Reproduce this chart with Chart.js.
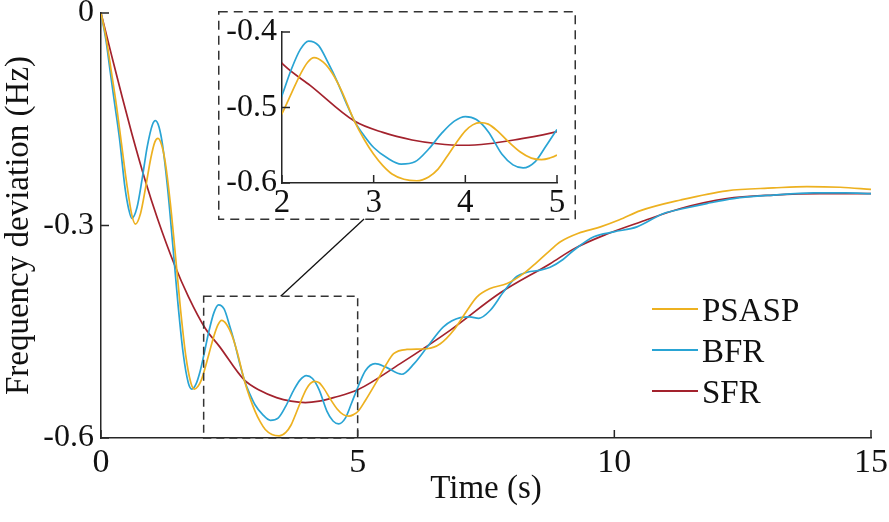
<!DOCTYPE html>
<html>
<head>
<meta charset="utf-8">
<script src="https://cdn.jsdelivr.net/npm/chart.js@4.4.1/dist/chart.umd.min.js"></script>
<style>
  html, body { margin: 0; padding: 0; background: #ffffff; }
  #wrap { position: relative; width: 889px; height: 522px; }
  #main { position: absolute; left: 0; top: 0; }
  #inset { position: absolute; }
</style>
</head>
<body>
<div id="wrap">
  <canvas id="main" width="889" height="522"></canvas>
  <canvas id="inset" width="358" height="209"></canvas>
</div>
<script>
// ---------------- data ----------------
const seriesNames = ['PSASP', 'BFR', 'SFR'];

const psaspT = [0, 0.1, 0.2, 0.3, 0.4, 0.5, 0.6, 0.67, 0.77, 0.87, 0.97, 1.05, 1.11, 1.18, 1.25, 1.35, 1.45, 1.55, 1.65, 1.75, 1.82, 1.89, 1.95, 2.0, 2.1, 2.2, 2.28, 2.35, 2.45, 2.55, 2.65, 2.79, 2.9, 3.0, 3.1, 3.2, 3.33, 3.47, 3.6, 3.7, 3.8, 3.9, 4.0, 4.08, 4.16, 4.25, 4.35, 4.45, 4.6, 4.72, 4.83, 4.92, 5.0, 5.15, 5.38, 5.55, 5.7, 5.96, 6.35, 6.61, 6.87, 7.13, 7.32, 7.58, 7.91, 8.23, 8.49, 8.75, 8.95, 9.3, 9.73, 10.1, 10.51, 11.29, 12.19, 13.1, 13.75, 14.4, 15];
const psaspF = [0, -0.035, -0.082, -0.13, -0.185, -0.24, -0.285, -0.298, -0.283, -0.246, -0.205, -0.182, -0.177, -0.186, -0.210, -0.268, -0.342, -0.419, -0.483, -0.522, -0.531, -0.527, -0.519, -0.508, -0.482, -0.456, -0.440, -0.434, -0.440, -0.455, -0.478, -0.518, -0.543, -0.562, -0.577, -0.588, -0.595, -0.597, -0.592, -0.582, -0.565, -0.547, -0.531, -0.523, -0.520, -0.522, -0.531, -0.543, -0.559, -0.567, -0.569, -0.567, -0.563, -0.547, -0.519, -0.497, -0.481, -0.475, -0.474, -0.467, -0.448, -0.420, -0.401, -0.389, -0.382, -0.368, -0.352, -0.335, -0.323, -0.311, -0.302, -0.292, -0.279, -0.264, -0.251, -0.247, -0.245, -0.246, -0.249];

const bfrT = [0, 0.1, 0.18, 0.27, 0.36, 0.47, 0.54, 0.6, 0.7, 0.8, 0.9, 1.0, 1.06, 1.13, 1.2, 1.3, 1.4, 1.5, 1.6, 1.7, 1.77, 1.85, 1.93, 2.0, 2.1, 2.2, 2.29, 2.4, 2.5, 2.6, 2.7, 2.8, 2.9, 3.0, 3.15, 3.3, 3.45, 3.6, 3.75, 3.88, 4.0, 4.12, 4.25, 4.4, 4.52, 4.63, 4.76, 4.88, 5.0, 5.15, 5.34, 5.55, 5.86, 6.1, 6.35, 6.67, 7.0, 7.18, 7.36, 7.58, 7.84, 8.1, 8.3, 8.56, 8.75, 9.0, 9.21, 9.6, 9.99, 10.44, 10.96, 11.35, 11.8, 12.32, 13.1, 13.88, 14.5, 15];
const bfrF = [0, -0.04, -0.083, -0.13, -0.177, -0.248, -0.277, -0.290, -0.275, -0.235, -0.189, -0.158, -0.152, -0.161, -0.187, -0.249, -0.329, -0.411, -0.480, -0.522, -0.531, -0.524, -0.506, -0.484, -0.450, -0.423, -0.412, -0.418, -0.440, -0.465, -0.494, -0.520, -0.538, -0.553, -0.567, -0.575, -0.572, -0.555, -0.533, -0.518, -0.512, -0.516, -0.532, -0.562, -0.576, -0.580, -0.572, -0.551, -0.529, -0.505, -0.495, -0.500, -0.510, -0.495, -0.472, -0.443, -0.430, -0.429, -0.431, -0.420, -0.394, -0.372, -0.366, -0.363, -0.359, -0.348, -0.335, -0.316, -0.309, -0.302, -0.283, -0.276, -0.269, -0.262, -0.257, -0.254, -0.254, -0.255];

const sfrT = [0, 0.2, 0.41, 0.6, 0.86, 1.1, 1.43, 1.7, 2.03, 2.31, 2.79, 3.1, 3.42, 3.7, 3.98, 4.25, 4.53, 5.0, 5.83, 6.8, 7.78, 8.75, 9.21, 9.86, 10.51, 11.29, 12.19, 13.1, 14.0, 15];
const sfrF = [0, -0.058, -0.118, -0.170, -0.236, -0.290, -0.355, -0.400, -0.445, -0.471, -0.518, -0.533, -0.543, -0.548, -0.550, -0.548, -0.543, -0.532, -0.495, -0.448, -0.395, -0.354, -0.333, -0.312, -0.295, -0.276, -0.262, -0.257, -0.255, -0.255];

const mainXTicks = [0, 5, 10, 15];
const mainYTicks = [0, -0.3, -0.6];
const insetXTicks = [2, 3, 4, 5];
const insetYTicks = [-0.4, -0.5, -0.6];
const zoomRange = { x0: 2, x1: 5, y0: -0.6, y1: -0.4 };

// ---------------- styles ----------------
const COLORS = ['#EDB120', '#29A4D4', '#A3222D'];
const AXIS = '#262626';
const FONT = "'Liberation Serif', 'Times New Roman', serif";
const INSET = { left: 218, top: 11, width: 358, height: 209 };

const insetEl = document.getElementById('inset');
insetEl.style.left = INSET.left + 'px';
insetEl.style.top = INSET.top + 'px';

function makeSets() {
  const src = [[psaspT, psaspF], [bfrT, bfrF], [sfrT, sfrF]];
  return src.map(([t, f], i) => ({
    label: seriesNames[i],
    data: t.map((x, k) => ({ x: x, y: f[k] })),
    borderColor: COLORS[i],
    backgroundColor: COLORS[i],
    borderWidth: 1.7,
    pointRadius: 0,
    fill: false,
    cubicInterpolationMode: 'monotone'
  }));
}

function fmt(v) {
  const n = Number(v);
  if (Math.abs(n - Math.round(n)) < 1e-9) return String(Math.round(n));
  return n.toFixed(1);
}

// inward tick marks
const inwardTicks = {
  id: 'inwardTicks',
  afterDraw(chart, args, opts) {
    const { ctx, chartArea: a, scales } = chart;
    const len = opts.len || 8;
    ctx.save();
    ctx.strokeStyle = AXIS;
    ctx.lineWidth = 1.5;
    ctx.beginPath();
    scales.x.ticks.forEach(t => {
      const px = scales.x.getPixelForValue(t.value);
      ctx.moveTo(px, a.bottom);
      ctx.lineTo(px, a.bottom - len);
    });
    scales.y.ticks.forEach(t => {
      const py = scales.y.getPixelForValue(t.value);
      ctx.moveTo(a.left, py);
      ctx.lineTo(a.left + len, py);
    });
    ctx.stroke();
    ctx.restore();
  }
};

// dashed zoom rectangle + connector + legend on main chart
const mainDecor = {
  id: 'mainDecor',
  afterDraw(chart) {
    const { ctx, chartArea: a, scales: { x, y } } = chart;
    ctx.save();
    ctx.strokeStyle = '#333333';
    ctx.lineWidth = 1.5;
    ctx.setLineDash([8, 5]);
    const rx0 = x.getPixelForValue(zoomRange.x0), rx1 = x.getPixelForValue(zoomRange.x1);
    const ry0 = y.getPixelForValue(zoomRange.y1), ry1 = y.getPixelForValue(zoomRange.y0);
    ctx.strokeRect(rx0, ry0, rx1 - rx0, ry1 - ry0);
    ctx.setLineDash([]);
    ctx.strokeStyle = '#111111';
    ctx.lineWidth = 1.3;
    ctx.beginPath();
    ctx.moveTo(x.getPixelForValue(3.5), ry0);
    ctx.lineTo(INSET.left + INSET.width * 0.408, INSET.top + INSET.height - 1);
    ctx.stroke();

    // legend
    const lx0 = a.right - 219, lx1 = a.right - 173, tx = a.right - 169;
    const rows = [a.bottom - 129, a.bottom - 88, a.bottom - 47];
    ctx.font = '33px ' + FONT;
    ctx.textBaseline = 'alphabetic';
    ctx.textAlign = 'left';
    chart.data.datasets.forEach((ds, i) => {
      ctx.strokeStyle = ds.borderColor;
      ctx.lineWidth = 2;
      ctx.beginPath();
      ctx.moveTo(lx0, rows[i]);
      ctx.lineTo(lx1, rows[i]);
      ctx.stroke();
      ctx.fillStyle = '#111111';
      ctx.fillText(ds.label, tx, rows[i] + 12);
    });
    ctx.restore();
  }
};

const insetBorder = {
  id: 'insetBorder',
  afterDraw(chart) {
    const { ctx, width, height } = chart;
    ctx.save();
    ctx.strokeStyle = '#333333';
    ctx.lineWidth = 1.5;
    ctx.setLineDash([9, 6]);
    ctx.strokeRect(0.75, 0.75, width - 1.5, height - 1.5);
    ctx.restore();
  }
};

function axisOpts(min, max, tickVals, isX, fit, fontSize, pad, title) {
  const o = {
    type: 'linear', min: min, max: max,
    afterBuildTicks: s => { s.ticks = tickVals.map(v => ({ value: v })); },
    afterFit: s => {
      if (isX) { s.height = fit; s.paddingLeft = 0; s.paddingRight = 0; }
      else { s.width = fit; s.paddingTop = 0; s.paddingBottom = 0; }
    },
    ticks: {
      font: { family: FONT, size: fontSize }, color: '#111111', padding: pad,
      maxRotation: 0, minRotation: 0, autoSkip: false, callback: v => fmt(v)
    },
    grid: { display: false, drawTicks: false },
    border: { display: true, color: AXIS, width: 1.5 }
  };
  if (title) o.title = title;
  return o;
}

new Chart(document.getElementById('main'), {
  type: 'line',
  data: { datasets: makeSets() },
  options: {
    responsive: false, animation: false, devicePixelRatio: 1,
    layout: { padding: { top: 13, right: 18, left: 0, bottom: 0 } },
    plugins: { legend: { display: false }, tooltip: { enabled: false }, inwardTicks: { len: 8 } },
    scales: {
      x: axisOpts(0, 15, mainXTicks, true, 84, 34, 5,
        { display: true, text: 'Time (s)', color: '#111111', font: { family: FONT, size: 33 }, padding: { top: 0, bottom: 13 } }),
      y: axisOpts(-0.6, 0, mainYTicks, false, 101, 32, 7,
        { display: true, text: 'Frequency deviation (Hz)', color: '#111111', font: { family: FONT, size: 33 }, padding: { top: 0, bottom: 0 } })
    }
  },
  plugins: [inwardTicks, mainDecor]
});

new Chart(insetEl, {
  type: 'line',
  data: { datasets: makeSets() },
  options: {
    responsive: false, animation: false, devicePixelRatio: 1,
    layout: { padding: { top: 21, right: 19, left: 0, bottom: 0 } },
    plugins: { legend: { display: false }, tooltip: { enabled: false }, inwardTicks: { len: 8 } },
    scales: {
      x: axisOpts(2, 5, insetXTicks, true, 37, 33, 1),
      y: axisOpts(-0.6, -0.4, insetYTicks, false, 64, 32, 5)
    }
  },
  plugins: [inwardTicks, insetBorder]
});
</script>
</body>
</html>
